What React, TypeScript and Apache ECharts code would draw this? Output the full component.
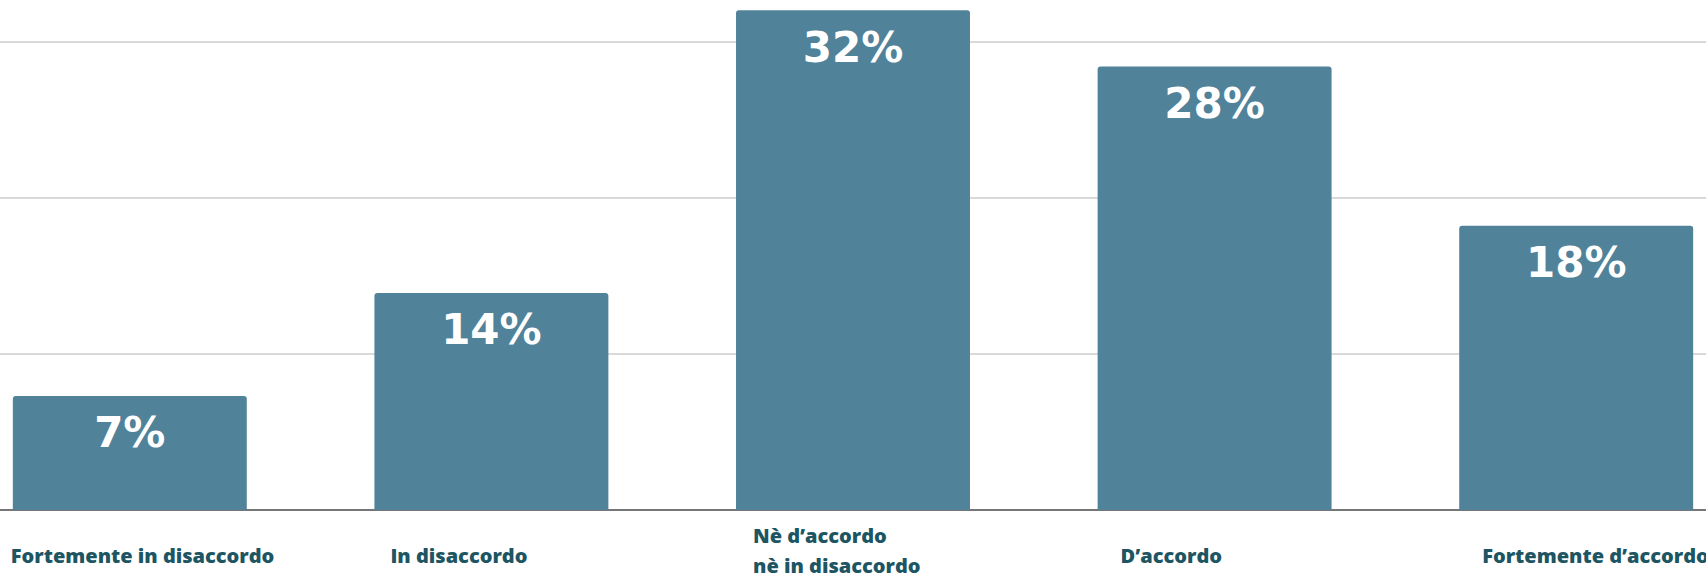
import React, { useEffect, useRef } from "react";
import * as echarts from "echarts";

const categories: string[] = [
  "Fortemente in disaccordo",
  "In disaccordo",
  "Nè d’accordo\nnè in disaccordo",
  "D’accordo",
  "Fortemente d’accordo",
];
// bar heights (labels show them rounded)
const values: number[] = [7.3, 13.9, 32.0, 28.4, 18.2];
const yTicks: number[] = [0, 10, 20, 30];

// label box widths (style only): text is left-aligned inside a box centred on each bar
const labelBoxWidths: number[] = [238, 202, 200, 188, 188];

const OVERHANG = 51;

export default function App() {
  const ref = useRef<HTMLDivElement>(null);
  useEffect(() => {
    if (!ref.current) return;
    const chart = echarts.init(ref.current, undefined, { renderer: "svg" });
    const rich: Record<string, any> = {};
    labelBoxWidths.forEach((w, i) => {
      const multi = categories[i].includes("\n");
      rich["r" + i] = {
        width: w,
        align: "left",
        fontFamily: "Open Sans",
        fontWeight: 800,
        fontSize: 20,
        lineHeight: 30,
        color: "#1d5563",
        padding: multi ? [0, 0, 0, 0] : [10, 0, 0, 0],
      };
    });
    chart.setOption({
      animation: false,
      backgroundColor: "#ffffff",
      grid: { left: 0, right: 0, top: 0, bottom: 71, containLabel: false },
      xAxis: {
        type: "category",
        data: categories,
        axisTick: { show: false },
        axisLine: { show: true, lineStyle: { color: "#555555", width: 1.5 } },
        axisLabel: {
          interval: 0,
          margin: 40.5,
          verticalAlign: "middle",
          align: "center",
          formatter: (v: string, i: number) =>
            v
              .split("\n")
              .map((l) => `{r${i}|${l}}`)
              .join("\n"),
          rich,
        },
      },
      yAxis: {
        type: "value",
        min: yTicks[0],
        max: 32.65,
        interval: yTicks[1] - yTicks[0],
        axisLabel: { show: false },
        axisLine: { show: false },
        axisTick: { show: false },
        splitLine: {
          show: true,
          showMaxLine: false,
          lineStyle: { color: "#d9d9d9", width: 2 },
        },
      },
      series: [
        {
          type: "bar",
          data: values,
          barWidth: "64.7%",
          itemStyle: { color: "#50829a", borderRadius: [3, 3, 0, 0] },
          label: {
            show: true,
            position: "insideTop",
            distance: 16,
            formatter: (p: any) => `${Math.round(p.value)}%`,
            color: "#ffffff",
            fontFamily: "DejaVu Sans",
            fontWeight: "bold",
            fontSize: 42,
          },
        },
      ],
    });
    return () => chart.dispose();
  }, []);
  return (
    <div
      ref={ref}
      style={{
        position: "fixed",
        left: -OVERHANG,
        top: 0,
        width: 1706 + 2 * OVERHANG,
        height: 581,
      }}
    />
  );
}
